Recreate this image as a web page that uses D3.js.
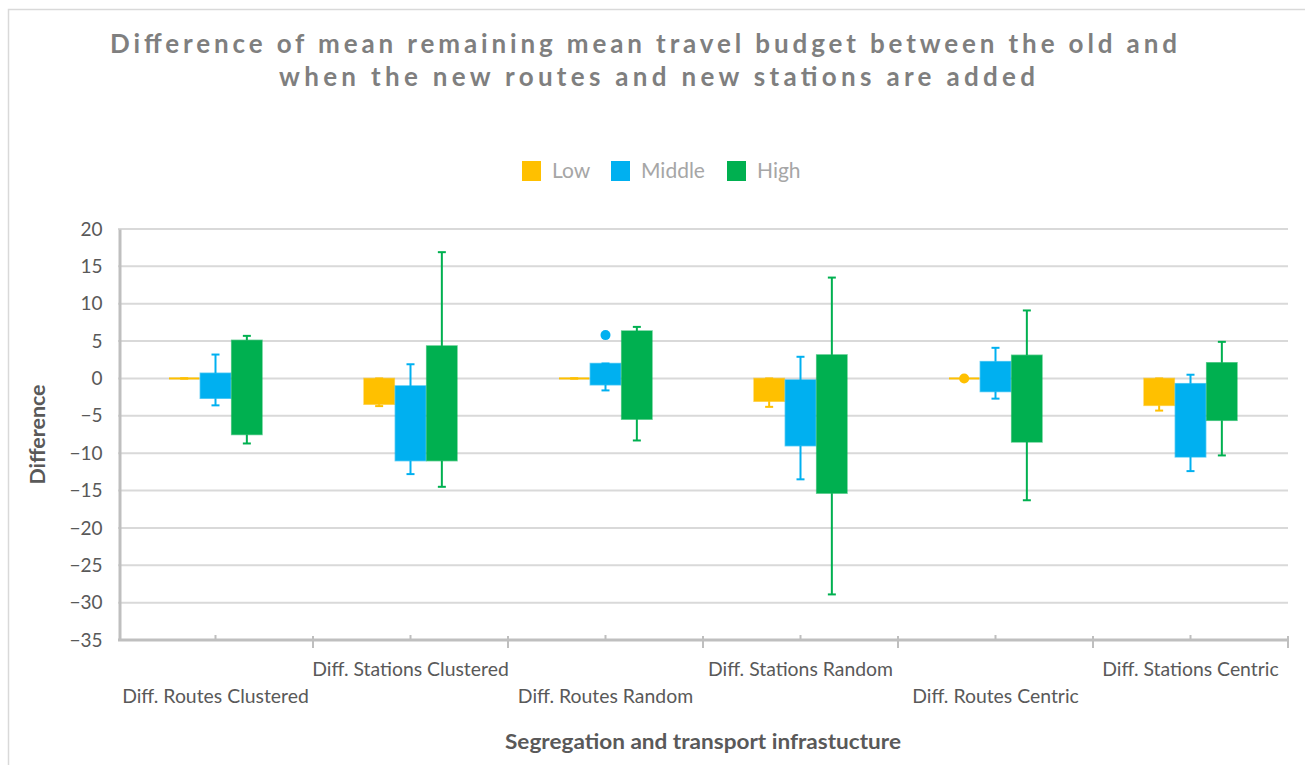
<!DOCTYPE html>
<html>
<head>
<meta charset="utf-8">
<script src="https://cdn.jsdelivr.net/npm/d3@7"></script>
<style>
  html, body { margin: 0; padding: 0; background: #fff; }
  svg { display: block; font-family: Lato, "Open Sans", sans-serif; }
</style>
</head>
<body>
<svg id="chart" width="1305" height="765"></svg>
<script>
// Scenario categories along the x axis
const categories = [
  "Diff. Routes Clustered", "Diff. Stations Clustered", "Diff. Routes Random",
  "Diff. Stations Random", "Diff. Routes Centric", "Diff. Stations Centric"
];
const seriesNames = ["Low", "Middle", "High"];
const seriesColors = ["#FFC000", "#00B0F0", "#00B050"];

// Box (upper / lower edge) and whisker ends per series, one value per category
const lowBoxTop        = [0, 0, 0, 0, 0, 0];
const lowBoxBottom     = [0, -3.45, 0, -3.05, 0, -3.6];
const lowWhiskerTop    = [0, 0, 0, 0, 0, 0];
const lowWhiskerBottom = [0, -3.7, 0, -3.8, 0, -4.3];

const midBoxTop        = [0.7, -1.0, 2.0, -0.2, 2.25, -0.7];
const midBoxBottom     = [-2.65, -11.0, -0.85, -9.0, -1.75, -10.5];
const midWhiskerTop    = [3.2, 1.9, 2.0, 2.9, 4.1, 0.5];
const midWhiskerBottom = [-3.6, -12.8, -1.6, -13.5, -2.7, -12.4];

const highBoxTop        = [5.1, 4.35, 6.35, 3.15, 3.1, 2.1];
const highBoxBottom     = [-7.5, -11.0, -5.45, -15.35, -8.5, -5.6];
const highWhiskerTop    = [5.7, 16.9, 6.9, 13.5, 9.1, 4.9];
const highWhiskerBottom = [-8.7, -14.5, -8.3, -28.9, -16.3, -10.3];

// Single points outside the boxes: [category index, series index, value]
const outliers = [[2, 1, 5.8], [4, 0, 0]];

const yTicks = [20, 15, 10, 5, 0, -5, -10, -15, -20, -25, -30, -35];

const boxTop = [lowBoxTop, midBoxTop, highBoxTop];
const boxBottom = [lowBoxBottom, midBoxBottom, highBoxBottom];
const whiskerTop = [lowWhiskerTop, midWhiskerTop, highWhiskerTop];
const whiskerBottom = [lowWhiskerBottom, midWhiskerBottom, highWhiskerBottom];

const svg = d3.select("#chart");

// Chart area frame
svg.append("rect")
  .attr("x", 8.5).attr("y", 9.5).attr("width", 1310).attr("height", 770)
  .attr("fill", "#fff").attr("stroke", "#d9d9d9").attr("stroke-width", 1.5);

const plot = { left: 118, right: 1288, top: 229, bottom: 640 };

const x = d3.scaleBand().domain(categories).range([plot.left, plot.right]).padding(0);
const y = d3.scaleLinear().domain([-35, 20]).range([plot.bottom, plot.top]);
const xs = d3.scaleBand().domain(seriesNames)
  .range([0, x.bandwidth()]).paddingInner(0).paddingOuter(1.61);

// Title
const title = svg.append("g").attr("fill", "#7f7f7f")
  .attr("font-weight", "bold").attr("font-size", 26);
title.append("text").attr("x", 110).attr("y", 53)
  .attr("textLength", 1067).attr("lengthAdjust", "spacing")
  .text("Difference of mean remaining mean travel budget between the old and");
title.append("text").attr("x", 279).attr("y", 86)
  .attr("textLength", 756).attr("lengthAdjust", "spacing")
  .text("when the new routes and new stations are added");

// Legend
const legendX = [522, 611, 727];
const legend = svg.append("g");
seriesNames.forEach((s, i) => {
  legend.append("rect").attr("x", legendX[i]).attr("y", 161)
    .attr("width", 19).attr("height", 20).attr("fill", seriesColors[i]);
  legend.append("text").attr("x", legendX[i] + 30).attr("y", 178)
    .attr("font-size", 21).attr("fill", "#a6a6a6").text(s);
});

// Horizontal gridlines
svg.append("g").selectAll("line").data(yTicks.filter(t => t > -35)).join("line")
  .attr("x1", plot.left).attr("x2", plot.right)
  .attr("y1", d => y(d)).attr("y2", d => y(d))
  .attr("stroke", "#d9d9d9").attr("stroke-width", 2);

// Y axis
const yAxis = svg.append("g").attr("transform", `translate(${plot.left + 1.5},0)`)
  .call(d3.axisLeft(y).tickValues(yTicks).tickSize(0).tickPadding(17));
yAxis.select(".domain").attr("stroke", "#bfbfbf").attr("stroke-width", 3);
yAxis.selectAll("text").attr("font-size", 19).attr("fill", "#595959")
  .attr("font-family", "Lato, 'Open Sans', sans-serif");

// X axis line with ticks at category boundaries and centres
const xAxis = svg.append("g");
xAxis.append("line").attr("x1", plot.left).attr("x2", plot.right + 1)
  .attr("y1", y(-35)).attr("y2", y(-35))
  .attr("stroke", "#bfbfbf").attr("stroke-width", 3);
const bounds = categories.map(c => x(c)).concat([x(categories[categories.length - 1]) + x.bandwidth()]);
xAxis.selectAll(".major").data(bounds.slice(1)).join("line")
  .attr("x1", d => d).attr("x2", d => d)
  .attr("y1", y(-35) - 4).attr("y2", y(-35) + 8)
  .attr("stroke", "#bfbfbf").attr("stroke-width", 2);
xAxis.selectAll(".minor").data(categories).join("line")
  .attr("x1", d => x(d) + x.bandwidth() / 2).attr("x2", d => x(d) + x.bandwidth() / 2)
  .attr("y1", y(-35) - 5).attr("y2", y(-35))
  .attr("stroke", "#bfbfbf").attr("stroke-width", 2);

// Category labels, staggered on two rows
xAxis.selectAll(".cat").data(categories).join("text")
  .attr("x", d => x(d) + x.bandwidth() / 2)
  .attr("y", (d, i) => i % 2 === 0 ? 703 : 676)
  .attr("text-anchor", "middle").attr("font-size", 19.4).attr("fill", "#595959")
  .text(d => d);

// Axis titles
svg.append("text").attr("x", (plot.left + plot.right) / 2).attr("y", 749)
  .attr("text-anchor", "middle").attr("font-size", 20.5).attr("font-weight", "bold")
  .attr("textLength", 396).attr("lengthAdjust", "spacingAndGlyphs")
  .attr("fill", "#595959").text("Segregation and transport infrastucture");
svg.append("text").attr("transform", `translate(45,${(plot.top + plot.bottom) / 2}) rotate(-90)`)
  .attr("text-anchor", "middle").attr("font-size", 20.5).attr("font-weight", "bold")
  .attr("textLength", 100).attr("lengthAdjust", "spacingAndGlyphs")
  .attr("fill", "#595959").text("Difference");

// Boxes and whiskers
const marks = svg.append("g");
seriesNames.forEach((s, si) => {
  const color = seriesColors[si];
  const g = marks.append("g");
  categories.forEach((c, ci) => {
    const x0 = x(c) + xs(s);
    const w = xs.bandwidth();
    const cx = x0 + w / 2;
    const wt = whiskerTop[si][ci], wb = whiskerBottom[si][ci];
    const bt = boxTop[si][ci], bb = boxBottom[si][ci];
    const capW = 8;
    // whisker stems
    if (wt > bt) {
      g.append("line").attr("x1", cx).attr("x2", cx).attr("y1", y(wt)).attr("y2", y(bt))
        .attr("stroke", color).attr("stroke-width", 2);
    }
    if (wb < bb) {
      g.append("line").attr("x1", cx).attr("x2", cx).attr("y1", y(bb)).attr("y2", y(wb))
        .attr("stroke", color).attr("stroke-width", 2);
    }
    // caps
    [wt, wb].forEach(v => {
      g.append("line").attr("x1", cx - capW / 2).attr("x2", cx + capW / 2)
        .attr("y1", y(v)).attr("y2", y(v))
        .attr("stroke", color).attr("stroke-width", 2);
    });
    // box, or a flat line when both edges coincide
    if (y(bb) - y(bt) < 1) {
      g.append("line").attr("x1", x0 + 0.5).attr("x2", x0 + w - 0.5)
        .attr("y1", y(bt)).attr("y2", y(bb))
        .attr("stroke", color).attr("stroke-width", 2);
    } else {
      g.append("rect").attr("x", x0 + 0.5).attr("width", w - 1)
        .attr("y", y(bt)).attr("height", y(bb) - y(bt))
        .attr("fill", color).attr("stroke", color).attr("stroke-opacity", 0.6)
        .attr("stroke-width", 1.5);
    }
  });
});

// Outlier points
marks.selectAll("circle").data(outliers).join("circle")
  .attr("cx", d => x(categories[d[0]]) + xs(seriesNames[d[1]]) + xs.bandwidth() / 2)
  .attr("cy", d => y(d[2]))
  .attr("r", 5)
  .attr("fill", d => seriesColors[d[1]]);
</script>
</body>
</html>
